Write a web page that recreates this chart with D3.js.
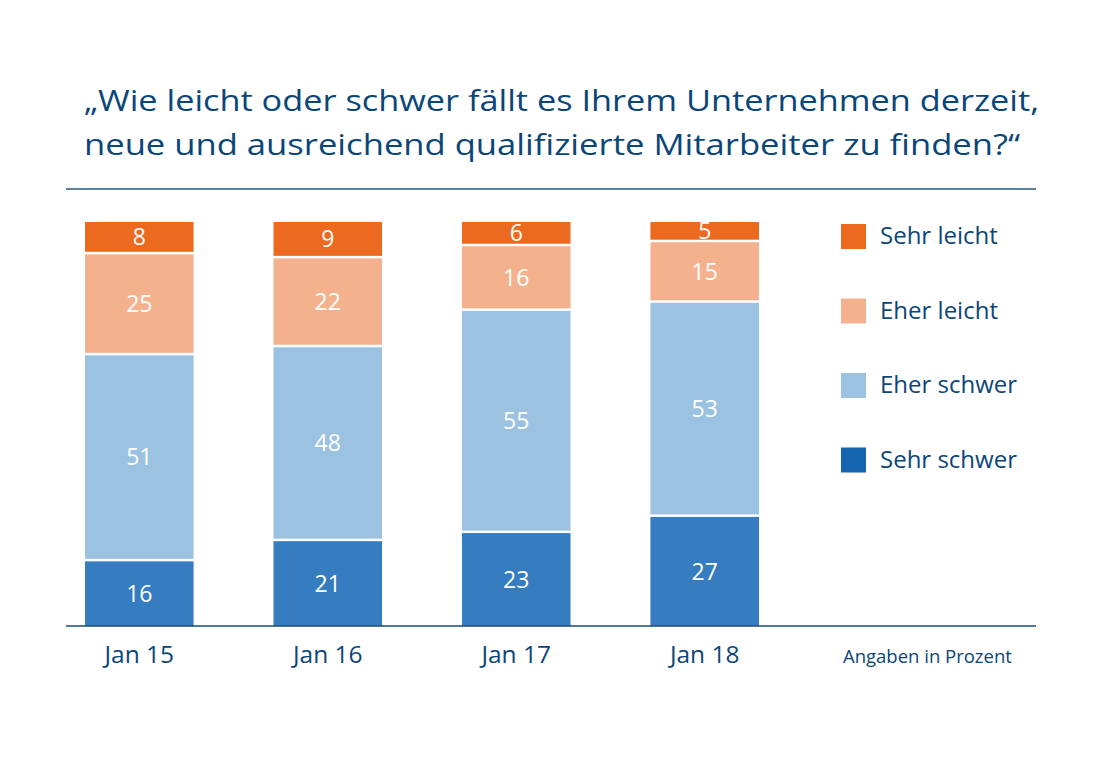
<!DOCTYPE html>
<html>
<head>
<meta charset="utf-8">
<script src="https://cdn.jsdelivr.net/npm/d3@7"></script>
<style>
  body { margin: 0; background: #fff; }
  svg { display: block; font-family: "Open Sans", "Noto Sans", sans-serif; }
</style>
</head>
<body>
<div id="chart"></div>
<script>
// data
const categories = ["Jan 15", "Jan 16", "Jan 17", "Jan 18"];
const seriesNames = ["Sehr schwer", "Eher schwer", "Eher leicht", "Sehr leicht"];
const sehrSchwer = [16, 21, 23, 27];
const eherSchwer = [51, 48, 55, 53];
const eherLeicht = [25, 22, 16, 15];
const sehrLeicht = [8, 9, 6, 5];
const titleLines = [
  "\u201EWie leicht oder schwer f\u00E4llt es Ihrem Unternehmen derzeit,",
  "neue und ausreichend qualifizierte Mitarbeiter zu finden?\u201C"
];
const note = "Angaben in Prozent";

const barColors = ["#357cc0", "#9bc2e1", "#f4b18d", "#ec6a1f"];
const legendColors = ["#1565b0", "#9bc2e1", "#f4b18d", "#ec6a1f"];
const navy = "#0b4678";

const width = 1110, height = 784;
const svg = d3.select("#chart").append("svg")
  .attr("width", width)
  .attr("height", height);

// title
const title = svg.append("text")
  .attr("fill", navy)
  .attr("font-size", 29);
title.selectAll("tspan")
  .data(titleLines)
  .enter()
  .append("tspan")
  .attr("x", 84)
  .attr("y", (d, i) => 111 + i * 44)
  .text(d => d);

// fit title lines to original width
const targetW = [955, 936];
title.selectAll("tspan").each(function(d, i) {
  const w = this.getComputedTextLength();
  if (w > 0) d3.select(this).attr("textLength", targetW[i]).attr("lengthAdjust", "spacingAndGlyphs");
});

svg.append("line")
  .attr("x1", 66).attr("x2", 1036)
  .attr("y1", 189).attr("y2", 189)
  .attr("stroke", "#2a587f")
  .attr("stroke-width", 1.5);

// stack
const rows = categories.map((c, i) => ({
  cat: c,
  "Sehr schwer": sehrSchwer[i],
  "Eher schwer": eherSchwer[i],
  "Eher leicht": eherLeicht[i],
  "Sehr leicht": sehrLeicht[i]
}));
const stacked = d3.stack().keys(seriesNames)(rows);

const x = d3.scaleBand()
  .domain(categories)
  .range([85, 759])
  .paddingInner(0.424)
  .paddingOuter(0);

const y = d3.scaleLinear()
  .domain([0, 100])
  .range([626, 222]);

const gap = 2.5;

const layer = svg.selectAll("g.layer")
  .data(stacked)
  .enter()
  .append("g")
  .attr("class", "layer")
  .attr("fill", (d, i) => barColors[i]);

layer.selectAll("rect")
  .data(d => d)
  .enter()
  .append("rect")
  .attr("x", d => x(d.data.cat))
  .attr("width", x.bandwidth())
  .attr("y", d => y(d[1]))
  .attr("height", d => y(d[0]) - y(d[1]) - (d[0] > 0 ? gap : 0));

layer.selectAll("text")
  .data(d => d)
  .enter()
  .append("text")
  .attr("x", d => x(d.data.cat) + x.bandwidth() / 2)
  .attr("y", d => (y(d[0]) - (d[0] > 0 ? gap : 0) + y(d[1])) / 2)
  .attr("dy", "0.36em")
  .attr("text-anchor", "middle")
  .attr("fill", "#fff")
  .attr("font-size", 23)
  .text(d => d[1] - d[0]);

// baseline + category labels
svg.append("line")
  .attr("x1", 66).attr("x2", 1036)
  .attr("y1", 626).attr("y2", 626)
  .attr("stroke", "#1d4a73")
  .attr("stroke-width", 1.5);

svg.selectAll("text.cat")
  .data(categories)
  .enter()
  .append("text")
  .attr("class", "cat")
  .attr("x", d => x(d) + x.bandwidth() / 2)
  .attr("y", 663)
  .attr("text-anchor", "middle")
  .attr("fill", navy)
  .attr("font-size", 24.5)
  .text(d => d);

svg.append("text")
  .attr("x", 843)
  .attr("y", 663)
  .attr("fill", navy)
  .attr("font-size", 18.5)
  .text(note);

// legend, top to bottom: Sehr leicht ... Sehr schwer
const legendOrder = seriesNames.map((n, i) => ({ name: n, color: legendColors[i] })).reverse();
const lg = svg.selectAll("g.legend")
  .data(legendOrder)
  .enter()
  .append("g")
  .attr("class", "legend")
  .attr("transform", (d, i) => `translate(841,${224 + i * 74.5})`);

lg.append("rect")
  .attr("width", 25)
  .attr("height", 25)
  .attr("fill", d => d.color);

lg.append("text")
  .attr("x", 39)
  .attr("y", 20)
  .attr("fill", navy)
  .attr("font-size", 24)
  .text(d => d.name);
</script>
</body>
</html>
